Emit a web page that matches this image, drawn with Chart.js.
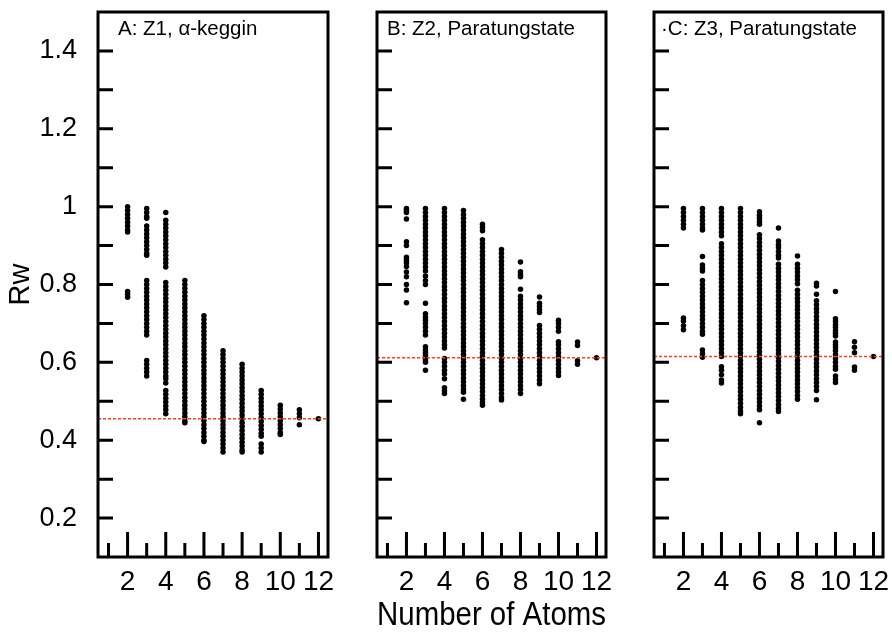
<!DOCTYPE html>
<html>
<head>
<meta charset="utf-8">
<script src="https://cdn.jsdelivr.net/npm/chart.js@4/dist/chart.umd.min.js"></script>
<style>
  html, body { margin: 0; padding: 0; background: #fff; }
  #wrap { position: relative; width: 892px; height: 639px; overflow: hidden; }
  #wrap canvas { position: absolute; top: 0; }
</style>
</head>
<body>
<div id="wrap">
  <canvas id="panelA" width="340" height="639" style="left:0px"></canvas>
  <canvas id="panelB" width="276" height="639" style="left:340px"></canvas>
  <canvas id="panelC" width="276" height="639" style="left:616px"></canvas>
</div>
<script>
// Number of atoms in each fitted cluster
const atomCounts = [2, 3, 4, 5, 6, 7, 8, 9, 10, 11, 12];

// Axis ticks
const xTicks = [1, 2, 3, 4, 5, 6, 7, 8, 9, 10, 11, 12];
const yTicks = [0.2, 0.3, 0.4, 0.5, 0.6, 0.7, 0.8, 0.9, 1.0, 1.1, 1.2, 1.3, 1.4];
const xRange = [0.45, 12.5];
const yRange = [0.1, 1.5];

// Panel headings
const panelTitles = ['A: Z1, α-keggin', 'B: Z2, Paratungstate', '·C: Z3, Paratungstate'];

// Reference Rw of the full structure (dashed line) for each panel
const refRw = [0.455, 0.612, 0.615];

// Rw of every atom subset, grouped by number of atoms (2 … 12)
const rwZ1 = [
  [1.00,0.99,0.98,0.97,0.96,0.95,0.94,0.935,0.782,0.775,0.767],
  [0.995,0.985,0.975,0.97,0.95,0.94,0.93,0.92,0.91,0.90,0.89,0.88,0.875,0.81,0.80,0.79,0.78,0.77,0.76,0.75,0.74,0.73,0.72,0.71,0.70,0.69,0.68,0.67,0.605,0.595,0.585,0.575,0.565],
  [0.985,0.965,0.955,0.945,0.935,0.925,0.915,0.905,0.895,0.885,0.875,0.865,0.855,0.845,0.805,0.795,0.785,0.775,0.765,0.755,0.745,0.735,0.725,0.715,0.705,0.695,0.685,0.675,0.665,0.655,0.645,0.635,0.625,0.615,0.605,0.595,0.585,0.575,0.565,0.558,0.547,0.528,0.518,0.508,0.498,0.488,0.478,0.468],
  [0.81,0.80,0.79,0.78,0.77,0.76,0.75,0.74,0.73,0.72,0.71,0.70,0.69,0.68,0.67,0.66,0.65,0.64,0.63,0.62,0.61,0.60,0.59,0.58,0.57,0.56,0.55,0.54,0.53,0.52,0.51,0.50,0.49,0.48,0.47,0.46,0.45,0.445],
  [0.72,0.71,0.70,0.69,0.68,0.67,0.66,0.65,0.64,0.63,0.62,0.61,0.60,0.59,0.58,0.57,0.56,0.55,0.54,0.53,0.52,0.51,0.50,0.49,0.48,0.47,0.46,0.45,0.44,0.43,0.42,0.41,0.40,0.397],
  [0.63,0.62,0.61,0.60,0.59,0.58,0.57,0.56,0.55,0.54,0.53,0.52,0.51,0.50,0.49,0.48,0.47,0.46,0.45,0.44,0.43,0.42,0.41,0.40,0.39,0.38,0.37],
  [0.595,0.585,0.575,0.565,0.555,0.545,0.535,0.525,0.515,0.505,0.495,0.485,0.475,0.465,0.455,0.445,0.435,0.425,0.415,0.405,0.395,0.385,0.375,0.37],
  [0.528,0.518,0.508,0.498,0.488,0.478,0.468,0.458,0.448,0.438,0.428,0.418,0.41,0.39,0.38,0.37],
  [0.49,0.48,0.47,0.46,0.45,0.44,0.43,0.42,0.415],
  [0.478,0.468,0.458,0.44],
  [0.455]
];

const rwZ2 = [
  [0.995,0.99,0.985,0.968,0.91,0.90,0.87,0.862,0.855,0.846,0.832,0.82,0.80,0.786,0.753],
  [0.995,0.985,0.975,0.965,0.955,0.945,0.935,0.925,0.915,0.905,0.895,0.885,0.875,0.865,0.855,0.845,0.835,0.822,0.81,0.80,0.752,0.725,0.716,0.708,0.70,0.69,0.68,0.67,0.64,0.632,0.625,0.618,0.612,0.606,0.60,0.58],
  [0.995,0.985,0.975,0.965,0.955,0.945,0.935,0.925,0.915,0.905,0.895,0.885,0.875,0.865,0.855,0.845,0.835,0.825,0.815,0.805,0.795,0.785,0.775,0.765,0.755,0.745,0.735,0.725,0.715,0.705,0.695,0.685,0.675,0.665,0.655,0.645,0.637,0.61,0.60,0.59,0.58,0.57,0.558,0.535,0.527,0.52],
  [0.99,0.98,0.97,0.96,0.95,0.94,0.93,0.92,0.91,0.90,0.89,0.88,0.87,0.86,0.85,0.84,0.83,0.82,0.81,0.80,0.79,0.78,0.77,0.76,0.75,0.74,0.73,0.72,0.71,0.70,0.69,0.68,0.67,0.66,0.65,0.64,0.63,0.62,0.61,0.60,0.59,0.58,0.57,0.56,0.55,0.54,0.53,0.523,0.505],
  [0.955,0.947,0.938,0.915,0.905,0.895,0.885,0.875,0.865,0.855,0.845,0.835,0.825,0.815,0.805,0.795,0.785,0.775,0.765,0.755,0.745,0.735,0.725,0.715,0.705,0.695,0.685,0.675,0.665,0.655,0.645,0.635,0.625,0.615,0.605,0.595,0.585,0.575,0.565,0.555,0.545,0.535,0.525,0.515,0.505,0.497,0.49],
  [0.89,0.88,0.87,0.86,0.85,0.84,0.83,0.82,0.81,0.80,0.79,0.78,0.77,0.76,0.75,0.74,0.73,0.72,0.71,0.70,0.69,0.68,0.67,0.66,0.65,0.64,0.63,0.62,0.61,0.60,0.59,0.58,0.57,0.56,0.55,0.54,0.53,0.52,0.51,0.503],
  [0.858,0.833,0.826,0.82,0.788,0.77,0.76,0.75,0.74,0.73,0.72,0.71,0.70,0.69,0.68,0.67,0.66,0.65,0.64,0.63,0.62,0.61,0.60,0.59,0.58,0.57,0.56,0.55,0.54,0.53,0.52],
  [0.768,0.752,0.744,0.736,0.728,0.695,0.685,0.675,0.665,0.655,0.645,0.635,0.625,0.615,0.605,0.595,0.585,0.575,0.565,0.555,0.545],
  [0.708,0.70,0.69,0.68,0.653,0.645,0.635,0.625,0.615,0.605,0.595,0.585,0.575,0.566],
  [0.652,0.643,0.604,0.595],
  [0.612]
];

const rwZ3 = [
  [0.995,0.985,0.975,0.965,0.955,0.945,0.714,0.706,0.694,0.684],
  [0.995,0.985,0.975,0.965,0.955,0.945,0.94,0.872,0.85,0.842,0.835,0.81,0.80,0.79,0.78,0.77,0.76,0.75,0.74,0.73,0.72,0.71,0.70,0.69,0.68,0.672,0.632,0.622,0.613],
  [0.995,0.985,0.975,0.965,0.955,0.945,0.935,0.925,0.905,0.895,0.885,0.875,0.865,0.855,0.845,0.835,0.825,0.815,0.805,0.795,0.785,0.775,0.765,0.755,0.745,0.735,0.725,0.715,0.705,0.695,0.685,0.675,0.665,0.655,0.645,0.635,0.625,0.615,0.589,0.58,0.568,0.555,0.547],
  [0.995,0.985,0.975,0.965,0.955,0.945,0.935,0.925,0.915,0.905,0.895,0.885,0.875,0.865,0.855,0.845,0.835,0.825,0.815,0.805,0.795,0.785,0.775,0.765,0.755,0.745,0.735,0.725,0.715,0.705,0.695,0.685,0.675,0.665,0.655,0.645,0.635,0.625,0.615,0.605,0.595,0.585,0.575,0.565,0.555,0.545,0.535,0.525,0.515,0.505,0.495,0.485,0.475,0.468],
  [0.987,0.978,0.97,0.962,0.955,0.928,0.918,0.908,0.898,0.888,0.878,0.868,0.858,0.848,0.838,0.828,0.818,0.808,0.798,0.788,0.778,0.768,0.758,0.748,0.738,0.728,0.718,0.708,0.698,0.688,0.678,0.668,0.658,0.648,0.638,0.628,0.618,0.608,0.598,0.588,0.578,0.568,0.558,0.548,0.538,0.528,0.518,0.508,0.498,0.488,0.478,0.445],
  [0.945,0.912,0.902,0.895,0.885,0.875,0.868,0.852,0.842,0.832,0.822,0.812,0.802,0.792,0.782,0.772,0.762,0.752,0.742,0.732,0.722,0.712,0.702,0.692,0.682,0.672,0.662,0.652,0.642,0.632,0.622,0.612,0.602,0.592,0.582,0.572,0.562,0.552,0.542,0.532,0.522,0.512,0.502,0.492,0.482,0.474],
  [0.873,0.852,0.842,0.832,0.822,0.812,0.802,0.785,0.775,0.765,0.755,0.745,0.735,0.725,0.715,0.705,0.695,0.685,0.675,0.665,0.655,0.645,0.635,0.625,0.615,0.605,0.595,0.585,0.575,0.565,0.555,0.545,0.535,0.525,0.515,0.505],
  [0.803,0.796,0.775,0.758,0.748,0.738,0.728,0.718,0.708,0.698,0.688,0.678,0.668,0.658,0.648,0.638,0.628,0.618,0.608,0.598,0.588,0.578,0.568,0.558,0.548,0.538,0.528,0.504],
  [0.782,0.712,0.705,0.697,0.69,0.682,0.675,0.668,0.652,0.645,0.638,0.63,0.62,0.61,0.60,0.59,0.582,0.565,0.556,0.548],
  [0.653,0.639,0.625,0.588,0.58],
  [0.615]
];

Chart.defaults.font.family = "'Liberation Sans', Arial, Helvetica, sans-serif";
Chart.defaults.color = '#000';
Chart.defaults.animation = false;

// Frame, inward tick marks and the heading inside each panel
const panelFrame = {
  id: 'panelFrame',
  afterDatasetsDraw(chart, args, opts) {
    const { ctx, chartArea: a, scales } = chart;
    const x = scales.x, y = scales.y;
    ctx.save();
    ctx.strokeStyle = '#000';
    ctx.lineWidth = 3;
    ctx.lineCap = 'butt';
    ctx.beginPath();
    y.ticks.forEach(t => {
      const py = y.getPixelForValue(t.value);
      ctx.moveTo(a.left, py);
      ctx.lineTo(a.left + 15, py);
    });
    x.ticks.forEach(t => {
      const px = x.getPixelForValue(t.value);
      const len = t.value % 2 === 0 ? 25 : 14;
      ctx.moveTo(px, a.bottom);
      ctx.lineTo(px, a.bottom - len);
    });
    ctx.stroke();
    ctx.strokeRect(a.left, a.top, a.right - a.left, a.bottom - a.top);
    ctx.fillStyle = '#000';
    ctx.font = "20.5px 'Liberation Sans', Arial, sans-serif";
    ctx.textBaseline = 'alphabetic';
    ctx.textAlign = 'left';
    ctx.fillText(opts.text, a.left + opts.dx, a.top + 23);
    ctx.restore();
  }
};

function buildPanel(canvasId, rw, ref, title, cfg) {
  const points = atomCounts.flatMap((n, i) => rw[i].map(v => ({ x: n, y: v })));
  return new Chart(document.getElementById(canvasId), {
    type: 'scatter',
    data: {
      datasets: [
        {
          data: [{ x: xRange[0], y: ref }, { x: xRange[1], y: ref }],
          showLine: true,
          borderColor: '#ff3d1f',
          borderWidth: 1.6,
          borderDash: [3, 2],
          pointRadius: 0,
          pointHoverRadius: 0,
          order: 0
        },
        {
          data: points,
          pointRadius: 2.75,
          pointHoverRadius: 2.75,
          backgroundColor: '#000',
          borderWidth: 0,
          order: 1
        }
      ]
    },
    options: {
      responsive: false,
      animation: false,
      events: [],
      layout: { padding: { top: 12, right: cfg.padRight, bottom: 0, left: 0 } },
      plugins: {
        legend: { display: false },
        tooltip: { enabled: false },
        panelFrame: { text: title, dx: cfg.titleDx }
      },
      scales: {
        x: {
          type: 'linear',
          min: xRange[0],
          max: xRange[1],
          afterBuildTicks: s => { s.ticks = xTicks.map(v => ({ value: v })); },
          afterFit: s => { s.height = 82; s.paddingLeft = 0; s.paddingRight = 0; },
          grid: { display: false, drawTicks: false },
          border: { display: false },
          ticks: {
            autoSkip: false,
            maxRotation: 0,
            minRotation: 0,
            padding: 8,
            font: { size: 28 },
            color: '#000',
            callback: v => (v % 2 === 0 ? String(v) : '')
          },
          title: cfg.xTitle ? {
            display: true,
            text: 'Number of Atoms',
            font: { size: 33 },
            color: '#000',
            padding: { top: 0, bottom: 3 }
          } : { display: false }
        },
        y: {
          type: 'linear',
          min: yRange[0],
          max: yRange[1],
          afterBuildTicks: s => { s.ticks = yTicks.map(v => ({ value: v })); },
          afterFit: s => { s.width = cfg.yWidth; s.paddingTop = 0; s.paddingBottom = 0; },
          grid: { display: false, drawTicks: false },
          border: { display: false },
          ticks: {
            display: cfg.yLabels,
            padding: 21,
            font: { size: 27 },
            color: '#000',
            callback: v => {
              const k = Math.round(v * 10);
              return k % 2 === 0 ? String(k / 10) : '';
            }
          },
          title: cfg.yTitle ? {
            display: true,
            text: 'Rw',
            font: { size: 29 },
            color: '#000',
            padding: { top: 4, bottom: 0 }
          } : { display: false }
        }
      }
    },
    plugins: [panelFrame]
  });
}

buildPanel('panelA', rwZ1, refRw[0], panelTitles[0],
  { yWidth: 98, padRight: 12, titleDx: 20, yLabels: true, yTitle: true, xTitle: false });
buildPanel('panelB', rwZ2, refRw[1], panelTitles[1],
  { yWidth: 37, padRight: 10, titleDx: 10, yLabels: false, yTitle: false, xTitle: true });
buildPanel('panelC', rwZ3, refRw[2], panelTitles[2],
  { yWidth: 38, padRight: 9, titleDx: 7, yLabels: false, yTitle: false, xTitle: false });
</script>
</body>
</html>
